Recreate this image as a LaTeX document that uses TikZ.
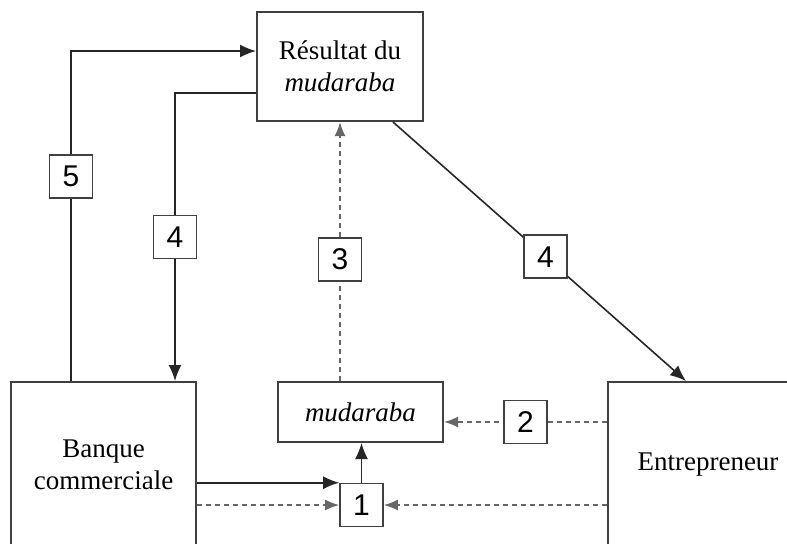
\documentclass[tikz,border=0pt]{standalone}
\usepackage{fontspec}
\setmainfont{Liberation Serif}
\newfontfamily\numfont{Liberation Sans}
\usetikzlibrary{arrows.meta,calc}
\tikzset{
  box/.style={draw=black!75,line width=1pt,fill=white,align=center,inner sep=0pt,
    font=\fontsize{13.5}{16}\selectfont},
  num/.style={draw=black!75,solid,line width=0.8pt,fill=white,minimum size=21.5pt,inner sep=0pt,
    font=\numfont\fontsize{15}{15}\selectfont},
  arr/.style={draw=black!85,line width=0.8pt,-{Latex[length=8pt,width=6.5pt]}},
  darr/.style={draw=black!60,line width=0.9pt,dash pattern=on 2.5pt off 2pt,-{Latex[length=7pt,width=5.5pt]}},
}
\begin{document}
\begin{tikzpicture}[x=0.5pt,y=-0.5pt]
  \useasboundingbox (0,0) rectangle (787,543);
  \clip (0,0) rectangle (787,543);
  \node[box,minimum width=83pt,minimum height=54.5pt] (result) at (340,66.5) {Résultat du\\\textit{mudaraba}};
  \node[box,minimum width=92.5pt,minimum height=83pt] (bank) at (103.5,465) {Banque\\commerciale};
  \node[box,minimum width=82.5pt,minimum height=30pt] (mud) at (360.5,412) {\textit{mudaraba}};
  \node[box,minimum width=100pt,minimum height=83pt] (ent) at (708,465) {Entrepreneur};
  \node[num] (one) at (361.5,505) {1};
  \coordinate (m2) at ($(mud.east)+(0,10)$);
  % bank <-> result
  \draw[arr] ($(bank.north west)+(61,0)$) |- node[num,pos=0.31] {5} ($(result.north west)+(0,40)$);
  \draw[arr] ($(result.north west)+(0,82)$) -| node[num,pos=0.75] {4} ($(bank.north west)+(165,0)$);
  \draw[arr] ($(result.south east)+(-31,0)$) -- node[num,pos=0.52] {4} ($(ent.north west)+(79,0)$);
  \draw[darr] (mud.north -| result.south) -- node[num,pos=0.47] {3} (result.south);
  \draw[darr] (ent.west |- m2) -- node[num] {2} (m2);
  % contributions
  \draw[arr] (bank.east |- one.north) -- (one.north west);
  \draw[darr] (bank.east |- one) -- (one.west);
  \draw[darr] (ent.west |- one) -- (one.east);
  \draw[arr] (one.north) -- (one.north |- mud.south);
\end{tikzpicture}
\end{document}
